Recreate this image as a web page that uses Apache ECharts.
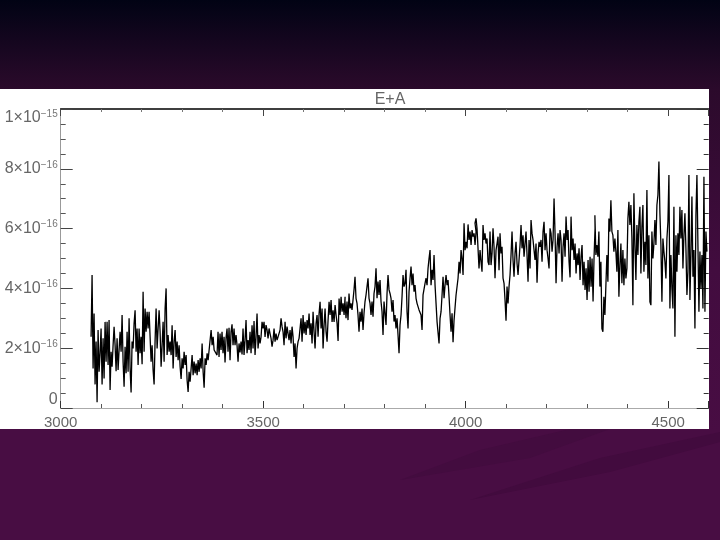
<!DOCTYPE html>
<html>
<head>
<meta charset="utf-8">
<title>E+A</title>
<style>
  html, body { margin: 0; padding: 0; background: #470c42; }
  #chart { width: 720px; height: 540px; }
</style>
<script src="https://cdn.jsdelivr.net/npm/echarts@6/dist/echarts.min.js"></script>
</head>
<body>
<div id="chart"></div>
<script>
const titleText = 'E+A'
const xTicks = [3000, 3500, 4000, 4500]
const yTickLabels = { 0: ['0', ''], 2: ['2×10', '−16'], 4: ['4×10', '−16'], 6: ['6×10', '−16'], 8: ['8×10', '−16'], 10: ['1×10', '−15'] }

const sampleStep = 2.47
const startBlue = 3075
const fluxBlue = [2.38,4.45,1.32,3.16,0.79,2.22,0.19,2.61,1.21,1.83,2.66,0.79,2.33,0.99,2.88,1.55,2.88,1.44,2.94,0.60,
  1.88,1.38,2.10,2.72,2.10,1.23,2.33,1.27,1.94,2.55,1.88,3.11,1.55,0.71,2.05,1.16,2.55,1.21,3.0,1.32,
  0.52,2.22,1.99,2.83,3.27,1.88,2.66,1.44,2.66,1.83,2.38,1.46,3.89,1.88,3.33,2.55,3.22,2.66,3.22,2.38,
  1.55,2.10,1.27,0.79,2.27,3.33,1.99,2.66,3.27,2.55,1.38,2.10,2.88,1.55,3.33,4.0,1.77,2.44,1.88,2.22,
  1.77,2.77,1.32,2.22,2.61,1.71,2.22,1.6,2.1,1.38,0.97,1.66,1.32,1.88,1.44,1.77,0.93,0.54,1.21,0.88,
  1.32,1.77,1.10,1.55,1.16,1.49,1.10,1.6,1.21,1.66,1.32,2.16,1.21,0.68,1.66,1.44,1.83,1.6,1.94,1.99,
  2.61,2.10,2.38,1.94]
const startMid = 3386
const fluxMid = [1.77,2.55,1.71,2.49,1.94,2.55,1.83,2.38,1.52,2.33,2.66,1.88,2.68,1.6,2.55,2.8,2.1,2.66,2.1,2.44,
  2.1,1.55,2.16,1.86,2.22,1.79,2.66,1.77,2.27,2.94,1.83,2.27,1.94,2.55,1.83,2.77,1.99,2.91,1.77,2.38,
  3.16,1.99,2.44,2.16,2.38,2.88,2.66,2.88,2.38,2.77,2.61,2.33,2.66,2.49,2.33,2.05,2.27,2.66,2.22,2.49,
  2.27,2.38,2.44,2.61,3.0,2.72,2.55,2.1,2.88,2.33,2.72,2.49,2.27,2.61,2.16,2.72,2.38,1.71,2.16,1.32,
  1.99,2.22,2.33,2.66,3.0,2.22,3.11,2.49,2.88,2.44,2.94,2.66,3.16,2.44,2.83,2.16,3.22,2.55,1.99,2.83,
  3.11,2.38,3.16,3.55,2.66,3.33,1.99,2.77,3.33,2.55,2.22,2.94,3.55,3.11,3.61,2.88,3.27,2.88,3.44,3.11,
  2.83,2.24,3.66,3.11,3.72,3.22,3.5,3.11,3.72]
const startBreak = 3702
const fluxBreak = [3.56,3.0,3.56,2.94,3.83,3.33,3.5,3.28,3.61,3.95,4.39,3.67,3.5,3.11,2.55,3.22,2.89,3.33,2.61,3.17,
  3.56,3.78,4.06,4.34,3.67,3.5,3.11,3.56,3.05,3.83,4.06,4.67,3.67,4.23,3.78,4.28,3.56,3.22,2.44,3.56,
  3.17,2.78,3.83,4.45,3.95,3.83,3.67,3.22,3.61,2.89,3.11,2.66,3.0,2.44,1.83,2.78,3.11,3.72,4.45,4.06,
  4.17,4.62,3.22,2.66,3.89,4.34,4.73,4.11,4.5,3.89,4.11,3.67,3.5,3.44,3.28,3.33,3.11,2.61,3.78,3.83,
  4.17,4.34,4.11,4.67,5.0,5.28,4.11,4.62,4.28,5.12,4.11,3.5,2.89,2.83,2.16,3.0,3.22,3.78,4.39,3.67,
  4.11,4.45,4.11,4.28,3.72,3.11,2.55,3.17,2.2,2.94,3.0,3.78,3.83,4.34,4.89,4.5,5.28,5.0,4.45,6.18,
  5.28,5.56,5.34,6.14,5.62,5.9,5.45,5.95,5.73,5.84,5.45,5.9]
const startRed = 4023
const fluxRed = [6.18,6.34,6.01,5.95,4.67,5.28,4.89,4.56,6.12,5.62,5.84,5.5,5.67,4.89,4.78,5.9,4.78,5.17,6.01,5.39,
  4.34,5.28,5.5,5.73,4.61,5.84,5.17,5.39,4.34,4.17,3.61,2.92,4.06,3.5,4.06,4.45,5.12,5.9,4.95,4.39,
  5.17,5.56,4.84,4.45,4.95,5.45,6.12,5.34,5.78,5.06,5.5,5.9,5.12,4.22,5.62,4.67,6.29,5.84,5.62,5.28,
  4.95,5.5,4.19,5.17,5.56,5.39,5.62,4.89,5.9,6.23,5.28,5.84,5.28,5.0,4.67,6.01,5.84,5.23,5.62,7.01,
  5.84,4.17,5.39,5.84,5.17,5.95,5.62,4.22,5.39,5.84,5.06,6.4,5.62,5.95,4.89,4.37,6.4,5.28,5.67,4.95,
  5.5,4.5,5.17,4.78,5.34,4.28,5.06,5.45,4.11,4.89,3.95,4.67,3.61,4.95,3.89,5.06,4.06,5.0,3.56,5.06,6.01]
const startTail = 4319
const fluxTail = [6.45,5.12,5.45,5.06,5.9,4.06,4.89,2.66,2.55,3.72,3.11,4.11,5.12,4.22,6.34,5.9,6.95,5.9,5.78,5.23,
  5.67,5.23,4.56,5.95,3.72,4.78,5.5,4.17,5.28,4.11,5.0,4.33,4.67,6.34,6.9,6.12,6.79,5.67,3.44,7.18,
  5.45,4.28,6.12,5.12,6.23,6.73,4.5,6.06,6.79,4.56,5.56,4.78,7.29,4.33,5.78,3.55,3.44,5.9,5.0,5.5,
  6.29,5.45,6.79,7.12,8.24,6.51,5.45,3.55,5.67,5.23,4.89,4.33,5.67,6.23,7.79,3.33,5.12,4.0,3.33,6.73,
  2.38,5.78,4.56,5.84,5.12,6.73,5.67,6.62,4.67,5.78,6.51,5.34,3.78,4.56,7.79,3.61,5.12,7.07,4.39,5.28,
  2.66,6.45,7.79,5.45,3.22,5.23,4.0,5.12,3.33,7.73,3.22,5.9,5.23]

const segments = [[startBlue, fluxBlue], [startMid, fluxMid], [startBreak, fluxBreak], [startRed, fluxRed], [startTail, fluxTail]]
let spectrum = []
segments.forEach(seg => {
  seg[1].forEach((f, i) => {
    spectrum.push([seg[0] + i * sampleStep, f])
  })
})

const labelFont = 'Liberation Sans'
const chart = echarts.init(document.getElementById('chart'))
let option = {
  animation: false,
  backgroundColor: {
    type: 'linear', x: 0, y: 0, x2: 0, y2: 1,
    colorStops: [
      { offset: 0, color: '#010314' },
      { offset: 0.165, color: '#2b0a2b' },
      { offset: 0.5, color: '#420c3f' },
      { offset: 0.8, color: '#480d43' },
      { offset: 1, color: '#480d43' }
    ]
  },
  title: {
    text: titleText,
    left: 385,
    top: 87,
    textAlign: 'center',
    textStyle: { color: '#666', fontSize: 16, fontWeight: 'normal', fontFamily: labelFont }
  },
  graphic: [
    { type: 'polygon', silent: true, z: -10, shape: { points: [[400, 480], [480, 450], [570, 429], [610, 429], [530, 458]] }, style: { fill: '#430c3f' } },
    { type: 'polygon', silent: true, z: -10, shape: { points: [[470, 500], [600, 458], [720, 432], [720, 442], [610, 472]] }, style: { fill: '#420b3e' } },
    { type: 'rect', silent: true, z: -5, shape: { x: 0, y: 89, width: 709, height: 340 }, style: { fill: '#ffffff' } }
  ],
  grid: { left: 60.7, right: 11.3, top: 109, bottom: 132, containLabel: false },
  xAxis: [
    {
      type: 'value', min: 3000, max: 4600, interval: 500, position: 'bottom',
      axisLine: { lineStyle: { color: '#aaa', width: 1 } },
      axisTick: { inside: true, length: 7, lineStyle: { color: '#333' } },
      minorTick: { show: true, splitNumber: 5, length: 4, lineStyle: { color: '#555' } },
      splitLine: { show: false },
      axisLabel: {
        color: '#666', fontSize: 15, fontFamily: labelFont, margin: 7,
        showMaxLabel: false,
        formatter: v => xTicks.includes(v) ? String(v) : ''
      }
    },
    {
      type: 'value', min: 3000, max: 4600, interval: 500, position: 'top',
      axisLine: { onZero: false, lineStyle: { color: '#000', width: 1.5 } },
      axisTick: { inside: true, length: 7, lineStyle: { color: '#444' } },
      minorTick: { show: true, splitNumber: 5, length: 3, lineStyle: { color: '#777' } },
      splitLine: { show: false },
      axisLabel: { show: false }
    }
  ],
  yAxis: [
    {
      type: 'value', min: 0, max: 10, interval: 2, position: 'left',
      axisLine: { show: true, lineStyle: { color: '#999', width: 1 } },
      axisTick: { show: true, inside: true, length: 12, lineStyle: { color: '#444' } },
      minorTick: { show: true, splitNumber: 4, length: 5, lineStyle: { color: '#555' } },
      splitLine: { show: false },
      axisLabel: {
        color: '#666', margin: 3,
        verticalAlignMaxLabel: 'top',
        verticalAlignMinLabel: 'bottom',
        formatter: v => '{a|' + yTickLabels[v][0] + '}' + (yTickLabels[v][1] ? '{s|' + yTickLabels[v][1] + '}' : ''),
        rich: {
          a: { color: '#666', fontSize: 16, fontFamily: labelFont },
          s: { color: '#777', fontSize: 10, fontFamily: labelFont, padding: [0, 0, 8, 0] }
        }
      }
    },
    {
      type: 'value', min: 0, max: 10, interval: 2, position: 'right',
      axisLine: { show: false, onZero: false },
      axisTick: { show: true, inside: true, length: 12, lineStyle: { color: '#333' } },
      minorTick: { show: true, splitNumber: 4, length: 5, lineStyle: { color: '#333' } },
      splitLine: { show: false },
      axisLabel: { show: false }
    }
  ],
  series: [
    {
      type: 'line',
      xAxisIndex: 0,
      yAxisIndex: 0,
      data: spectrum,
      showSymbol: false,
      silent: true,
      lineStyle: { color: '#000', width: 1.3 },
      z: 3
    }
  ]
}
chart.setOption(option)
window.addEventListener('resize', () => {
  chart.resize()
})
</script>
</body>
</html>
